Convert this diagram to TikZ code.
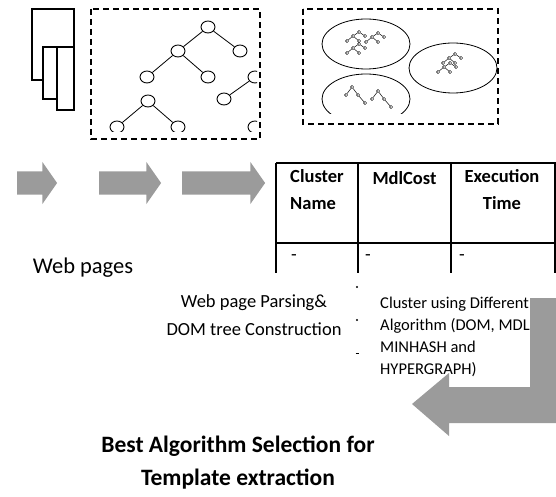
\documentclass[tikz,border=0pt]{standalone}
\usepackage{fontspec}
\setmainfont{Carlito}
\usetikzlibrary{positioning, shapes.arrows, shapes.geometric}

\definecolor{arrowgray}{RGB}{155,155,155}

\begin{document}
\begin{tikzpicture}[x=1pt, y=-1pt,
    treenode/.style={draw, ellipse, minimum width=14pt, minimum height=12pt, inner sep=0pt, line width=0.9pt},
    tinynode/.style={draw, circle, minimum size=3.2pt, inner sep=0pt, line width=0.5pt},
    blockarrow/.style={single arrow, fill=arrowgray, inner xsep=0pt, inner ysep=11.5pt,
        single arrow head extend=9.5pt, single arrow tip angle=110, single arrow head indent=0pt},
    dashbox/.style={line width=1.3pt, dash pattern=on 6pt off 4pt},
    cell/.style={font=\fontsize{18.5}{27}\selectfont\bfseries, inner sep=0pt},
    minitree/.pic={
        \node[tinynode] (-a) at (0,0) {};
        \node[tinynode] (-b) at (-6,4) {};
        \node[tinynode] (-c) at (6,4) {};
        \node[tinynode] (-d) at (-12,9) {};
        \node[tinynode] (-e) at (0,9) {};
        \draw[line width=0.5pt] (-a) -- (-b) (-a) -- (-c) (-b) -- (-d) (-b) -- (-e);
    },
    zigtree/.pic={
        \node[tinynode] (-a) at (0,0) {};
        \node[tinynode] (-b) at (-6,8) {};
        \node[tinynode] (-c) at (6,8) {};
        \node[tinynode] (-d) at (13,16) {};
        \draw[line width=0.5pt] (-a) -- (-b) (-a) -- (-c) (-c) -- (-d);
    }]

    \useasboundingbox (0,0) rectangle (556,497);

    % web pages
    \draw[fill=white, line width=1.1pt] (32,9) rectangle (74,80);
    \draw[fill=white, line width=1.1pt] (43,47) rectangle (74,99);
    \draw[fill=white, line width=1.1pt] (57,47) rectangle (74,110);

    % dom tree
    \draw[dashbox] (91,9) rectangle (260,139);
    \begin{scope}
        \clip (91,9) rectangle (257,132);
        \node[treenode] (t1) at (208,27) {};
        \node[treenode] (t2) at (178,51) {};
        \node[treenode] (t3) at (240,51) {};
        \node[treenode] (t4) at (147,77) {};
        \node[treenode] (t5) at (208,77) {};
        \node[treenode] (t6) at (255,77) {};
        \node[treenode] (t7) at (148,101) {};
        \node[treenode] (t8) at (224,99) {};
        \node[treenode] (t9) at (117,127) {};
        \node[treenode] (t10) at (178,127) {};
        \node[treenode] (t11) at (255,127) {};
        \draw[line width=0.8pt] (t1) -- (t2) (t1) -- (t3) (t2) -- (t4) (t2) -- (t5)
            (t6) -- (t8) (t7) -- (t9) (t7) -- (t10);
    \end{scope}

    % clusters
    \draw[dashbox] (303,9) rectangle (498,124);
    \begin{scope}
        \clip (303,9) rectangle (498,114);
        \draw[line width=0.8pt] (366,44) ellipse [x radius=44pt, y radius=25pt];
        \draw[line width=0.8pt] (453,68) ellipse [x radius=44pt, y radius=25pt];
        \draw[line width=0.8pt] (366,99) ellipse [x radius=44pt, y radius=25pt];
    \end{scope}
    \pic (m1) at (359,32) {minitree};
    \pic (m2) at (378,33) {minitree};
    \pic (m3) at (359,44) {minitree};
    \pic (m4) at (455,54) {minitree};
    \pic (m5) at (450,63) {minitree};
    \pic (z1) at (352,87) {zigtree};
    \pic (z2) at (378,91) {zigtree};

    % arrows
    \node[blockarrow, minimum height=40pt] (a1) at (33,183) {};
    \node[blockarrow, minimum height=62pt] (a2) at (126,183) {};
    \node[blockarrow, minimum height=83pt] (a3) at (219.5,183) {};

    % result table
    \draw[line width=1.4pt] (276,163) -- (556,163);
    \draw[line width=1.4pt] (276,243) -- (556,243);
    \foreach \x in {276,358,451,555} \draw[line width=1.4pt] (\x,163) -- (\x,273);
    \node[cell, align=left] (hname) at (317,190) {Cluster\\Name};
    \node[cell] (hcost) at (404.5,178) {MdlCost};
    \node[cell, align=center] (htime) at (502,190) {Execution\\Time};
    \node[cell, font=\fontsize{18.5}{22}\selectfont] (v1) at (294,258) {-};
    \node[cell, font=\fontsize{18.5}{22}\selectfont] (v2) at (368,258) {-};
    \node[cell, font=\fontsize{18.5}{22}\selectfont] (v3) at (462,258) {-};

    % labels
    \node[font=\fontsize{22.5}{26}\selectfont] (webpages) at (83,268) {Web pages};
    \node[font=\fontsize{18.5}{28}\selectfont, align=center] (parsing) at (254,315)
        {Web page Parsing\&\\DOM tree Construction};
    \node[font=\fontsize{16.5}{22}\selectfont, align=left, anchor=west, inner sep=0pt] (clusterdesc) at (380,337)
        {Cluster using Different\\Algorithm (DOM, MDL,\\MINHASH and\\HYPERGRAPH)};
    \fill (357,287) circle (1.2pt);
    \fill (357,320) circle (1.2pt);
    \draw[line width=1pt] (355.5,353) -- (358.5,353);

    % bent arrow
    \fill[arrowgray] (530,298) -- (556,298) -- (556,423) -- (449,423) -- (449,436)
        -- (412,404) -- (449,373) -- (449,387) -- (530,387) -- cycle;

    \node[font=\fontsize{23.5}{33}\selectfont\bfseries, align=center] (best) at (238,463)
        {Best Algorithm Selection for\\Template extraction};

\end{tikzpicture}
\end{document}
